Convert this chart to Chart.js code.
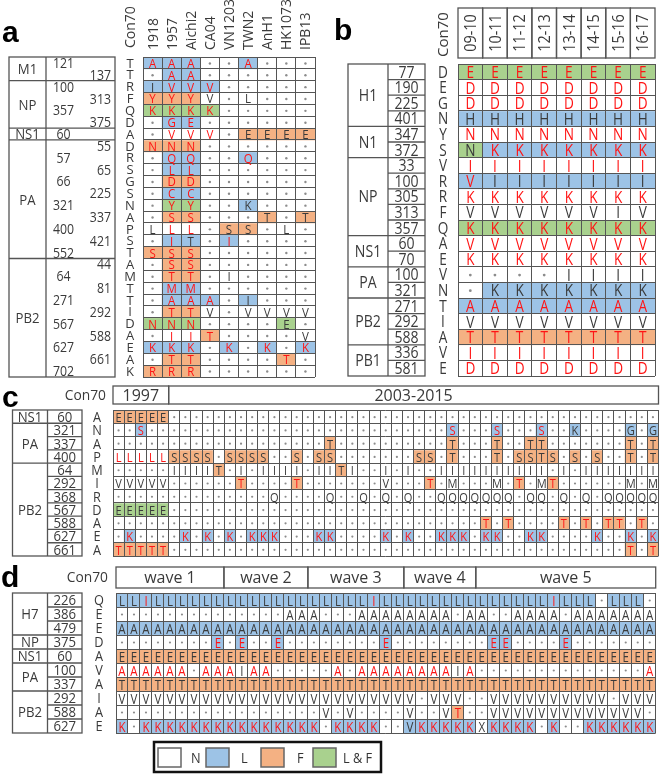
<!DOCTYPE html>
<html>
<head>
<meta charset="utf-8">
<script src="https://cdn.jsdelivr.net/npm/chart.js@4.4.1/dist/chart.umd.min.js"></script>
<style>
  body { margin: 0; background: #fff; }
  #page { position: relative; width: 660px; height: 774px; overflow: hidden; background: #fff; }
  canvas { position: absolute; }
</style>
</head>
<body>
<div id="page">
  <canvas id="cA"></canvas>
  <canvas id="cB"></canvas>
  <canvas id="cC"></canvas>
  <canvas id="cD"></canvas>
</div>
<script>
// ---------- data: panel a ----------
const aStrains = ['1918', '1957', 'Aichi2', 'CA04', 'VN1203', 'TWN2', 'AnH1', 'HK1073', 'IPB13'];
const aGenes = ['M1', 'NP', 'NS1', 'PA', 'PB2'];
const aGeneRows = [2, 4, 1, 10, 10];
const aPositions = [121, 137, 100, 313, 357, 375, 60, 55, 57, 65, 66, 225, 321, 337, 400, 421, 552,
  44, 64, 81, 271, 292, 567, 588, 627, 661, 702];
const aCon70 = 'TTRFQDADRSGSNAPSTAMTTIDAEAK';
// residues ('.' = same as Con70), cell class (L / F / B = L & F), red text
const aResidues = ['AAA..A...', '.AA......', 'IVVV.....', 'YYYV.L...', 'KKKK.....', '.GE......',
  '.VVV.EEEE', 'NNN......', '.QQ..Q...', '.LL......', '.DD......', '.CC......', '.YY..K...',
  '.SS...T.T', 'LLL.SS.L.', '.IT.I....', 'SSS......', '.SS......', '.TT.I....', '.MM......',
  '.AAA.I...', '.TTV.VVVV', 'NNN....E.', '.IIT....V', 'KKK.K.K.K', '.TT....T.', 'RRR......'];
const aClasses = ['LLL..L...', '.LL......', 'LLLL.....', 'FFF......', 'BBBB.....', '.LL......',
  '.....FFFF', 'FFF......', '.LL..L...', '.LL......', '.FF......', '.LL......', '.BB..L...',
  '.FF...F.F', '....FF...', '.LL.L....', 'FFF......', '.FF......', '.FF......', '.LL......',
  '.LLL.L...', '.FF......', 'BBB....B.', '...F.....', 'LLL.L.L.L', '.FF....F.', 'FFF......'];
const aRed = ['rrr..r...', '.rr......', '.rrr.....', 'rrr......', 'rrrr.....', '.rr......',
  '.rrr.....', 'rrr......', '.rr..r...', '.rr......', '.rr......', '.rr......', '.rr......',
  '.rr......', '.rr......', '.r..r....', 'rrr......', '.rr......', '.rr......', '.rr......',
  '.rrr.....', '.rr......', 'rrr......', '.rrr.....', 'rrr.r.r.r', '.rr....r.', 'rrr......'];

// ---------- data: panel b ----------
const bSeasons = ['09-10', '10-11', '11-12', '12-13', '13-14', '14-15', '15-16', '16-17'];
const bGenes = ['H1', 'N1', 'NP', 'NS1', 'PA', 'PB2', 'PB1'];
const bGeneRows = [4, 2, 5, 2, 2, 3, 2];
const bPositions = [77, 190, 225, 401, 347, 372, 33, 100, 305, 313, 357, 60, 70, 100, 321, 271, 292, 588, 336, 581];
const bCon70 = 'DEGNYSVRRFQAEVNTIAVE';
const bResidues = ['EEEEEEEE', 'DDDDDDDD', 'DDDDDDDD', 'HHHHHHHH', 'NNNNNNNN', 'NKKKKKKK', 'IIIIIIII',
  'VIIIIIII', 'KKKKKKKK', 'VVVVVVIV', 'KKKKKKKK', 'VVVVVVVV', 'KKKKKKKK', '....IIII', '.KKKKKKK',
  'AAAAAAAA', 'VVVVVVVV', 'TTTTTTTT', 'IIIIIIII', 'DDDDDDDD'];
const bClasses = ['BBBBBBBB', '........', '........', 'LLLLLLLL', '........', 'BLLLLLLL', '........',
  'LLLLLLLL', '........', '........', 'BBBBBBBB', '........', '........', '........', '.LLLLLLL',
  'LLLLLLLL', '........', 'FFFFFFFF', '........', '........'];
const bRed = ['rrrrrrrr', 'rrrrrrrr', 'rrrrrrrr', '........', 'rrrrrrrr', '.rrrrrrr', 'rrrrrrrr',
  'r.......', 'rrrrrrrr', '........', 'rrrrrrrr', 'rrrrrrrr', 'rrrrrrrr', '........', '........',
  'rrrrrrrr', '........', 'rrrrrrrr', 'rrrrrrrr', 'rrrrrrrr'];

// ---------- data: panel c ----------
const cPeriods = ['1997', '2003-2015'];
const cPeriodCols = [5, 44];
const cGenes = ['NS1', 'PA', 'PB2'];
const cGeneRows = [1, 3, 7];
const cPositions = [60, 321, 337, 400, 64, 292, 368, 567, 588, 627, 661];
const cCon70 = 'ANAPMIRDAEA';
const cResidues = [
  'EEEEE..... .......... .......... .......... .........',
  '..S....... .......... .......... S...S...S. .K....G.G',
  '.......... .........T .......... T...T..TT. ......T.T',
  'LLLLLSSSS. SSSS..S.SS .......SS. T...T.SSTS .S.S..T.T',
  '.....IIIIT .I.IIII.II TI..I.I..I IIIIIIIII. I.IIIIIII',
  'VVVVV..... .T....T... ....V...T. M...M.T.MT ......M.M',
  '.......... ....Q....Q ..Q.Q.Q..Q QQQQQQ.QQ. Q.Q.QQQQQ',
  'EEEEE..... .......... .......... .......... .........',
  '.......... .......... .......... ...T.T.... T.T.TT.T.',
  '.K....K.K. K.KKK...KK ....K.K..K KK.KK..KK. ...K..K.K',
  'TTTTT..... .......... .......... .......... ......T.T'];
const cClasses = [
  'FFFFF..... .......... .......... .......... .........',
  '..L....... .......... .......... L...L...L. .L....L.L',
  '.......... .........F .......... F...F..FF. ......F.F',
  '.....FFFF. FFFF..F.FF .......FF. F...F.FFFF .F.F..F.F',
  '.........F .......... F......... .......... .........',
  '.......... .F....F... ........F. ......F..F .........',
  '',
  'BBBBB..... .......... .......... .......... .........',
  '.......... .......... .......... ...F.F.... F.F.FF.F.',
  '.L....L.L. L.LLL...LL ....L.L..L LL.LL..LL. ...L..L.L',
  'FFFFF..... .......... .......... .......... ......F.F'];
const cRed = [
  '',
  '..r....... .......... .......... r...r...r. .........',
  '',
  'rrrrr..... .......... .......... .......... .........',
  '',
  '.......... .r....r... ........r. ......r..r .........',
  '',
  '',
  '.......... .......... .......... ...r.r.... r.r.rr.r.',
  '.r....r.r. r.rrr...rr ....r.r..r rr.rr..rr. ...r..r.r',
  'rrrrr..... .......... .......... .......... ......r.r'];

// ---------- data: panel d ----------
const dWaves = ['wave 1', 'wave 2', 'wave 3', 'wave 4', 'wave 5'];
const dWaveCols = [9, 7, 8, 6, 15];
const dGenes = ['H7', 'NP', 'NS1', 'PA', 'PB2'];
const dGeneRows = [3, 1, 1, 2, 3];
const dPositions = [226, 386, 479, 375, 60, 100, 337, 292, 588, 627];
const dCon70 = 'QEEDAVAIAE';
const dResidues = [
  'LLILLLLLLL LLLLLLLLLL LILLLLLLLL LLLLLLILLL .LLL.',
  '.......... ....AAA... AAAAAAAA.A A..AAAA.AA AAAAA',
  'AAAAAAAAAA AAAAAAAAAA AAAAAAAAAA AAAAAAAAAA AAAAA',
  '........E. E..E...... ..E....... .EE....E.. .....',
  'EEEEEEEEEE EEEEEEEEEE EEEEEEEEEE EEEEEEEEEE EEEEE',
  'AAAAAA.AAA IAA.....A. AAAAAAAAIA .......... ....A',
  'TTTTTTTTTT TTTTTTTTTT TTTTTTTTTT TTTTTTTTTT TTTTT',
  'VVVVVVVVVV VVVVVVVVVV VVVVV.VVV. .VVVVVVVVV V.VVV',
  '.......... .......V.V ....V..VT. .VVVVVVVVV VVVV.',
  'K.KKKKKKKK KKKKKKK.KK KK..VKKKKK XKKKK.K..K KKKKK'];
const dClasses = [
  'LLLLLLLLLL LLLLLLLLLL LLLLLLLLLL LLLLLLLLLL .LLL.',
  '',
  'LLLLLLLLLL LLLLLLLLLL LLLLLLLLLL LLLLLLLLLL LLLLL',
  '........L. L..L...... ..L....... .LL....L.. .....',
  'FFFFFFFFFF FFFFFFFFFF FFFFFFFFFF FFFFFFFFFF FFFFF',
  '',
  'FFFFFFFFFF FFFFFFFFFF FFFFFFFFFF FFFFFFFFFF FFFFF',
  '',
  '.......... .......... ........F. .......... .....',
  'L.LLLLLLLL LLLLLLL.LL LL..LLLLLL .LLLL.L..L LLLLL'];
const dRed = [
  '..r....... .......... .r........ ......r... .....',
  '',
  '',
  '........r. r..r...... ..r....... .rr....r.. .....',
  '',
  'rrrrrr.rrr .rr.....r. rrrrrrrr.r .......... ....r',
  '',
  '',
  '.......... .......... ........r. .......... .....',
  'r.rrrrrrrr rrrrrrr.rr rr...rrrrr .rrrr.r..r rrrrr'];

const legendLabels = ['N', 'L', 'F', 'L & F'];
const legendKeys = ['.', 'L', 'F', 'B'];

// ---------- styles ----------
const FAMILY = '"Open Sans", "Noto Sans", sans-serif';
const GRID = '#555';
const RED = '#ff1414';
const INK = '#3a3a3a';
const DOT = '#8c8c8c';
const FILL = { L: '#9dc3e6', F: '#f4b183', B: '#a9d18e' };

const strip = s => s.replace(/ /g, '');

function text(ctx, s, x, y, size, o = {}) {
  ctx.save();
  ctx.translate(x, y);
  if (o.rot) ctx.rotate(o.rot);
  ctx.scale(o.sx || 1, 1);
  ctx.font = (o.bold ? 'bold ' : '') + size + 'px ' + (o.family || FAMILY);
  ctx.fillStyle = o.color || INK;
  ctx.textAlign = o.align || 'center';
  ctx.textBaseline = 'alphabetic';
  ctx.fillText(s, 0, size * 0.36);
  ctx.restore();
}

function line(ctx, x0, y0, x1, y1) {
  ctx.beginPath();
  ctx.moveTo(x0, y0);
  ctx.lineTo(x1, y1);
  ctx.stroke();
}

// left-hand table of gene names and positions
function drawTable(ctx, Y, t) {
  const n = t.positions.length;
  ctx.save();
  ctx.strokeStyle = GRID;
  ctx.lineWidth = 1.3;
  ctx.strokeRect(t.x0, Y(0), t.x2 - t.x0, Y(n) - Y(0));
  line(ctx, t.x1, Y(0), t.x1, Y(n));
  let r = 0;
  const groupEnds = [];
  t.genes.forEach((g, i) => {
    const r0 = r;
    r += t.geneRows[i];
    groupEnds.push(r);
    if (r < n) line(ctx, t.x0, Y(r), t.x2, Y(r));
    text(ctx, g, (t.x0 + t.x1) / 2, (Y(r0) + Y(r)) / 2, t.geneSize, { sx: t.sx });
  });
  if (t.rowLines) {
    for (let k = 1; k < n; k++) {
      if (!groupEnds.includes(k)) line(ctx, t.x1, Y(k), t.x2, Y(k));
    }
  }
  t.positions.forEach((p, k) => {
    const yc = (Y(k) + Y(k + 1)) / 2;
    if (t.stagger) {
      if (k % 2 === 0) text(ctx, String(p), t.posLeft, yc, t.posSize, { sx: t.sx });
      else text(ctx, String(p), t.posRight, yc, t.posSize, { sx: t.sx, align: 'right' });
    } else {
      text(ctx, String(p), (t.x1 + t.x2) / 2, yc, t.posSize, { sx: t.sx });
    }
  });
  ctx.restore();
}

function drawLegend(ctx) {
  ctx.save();
  ctx.strokeStyle = '#111';
  ctx.lineWidth = 2.5;
  ctx.strokeRect(154, 742, 227, 30);
  const sw = [158, 206, 261, 313];
  const lx = [191, 241, 297, 343];
  legendLabels.forEach((lab, i) => {
    const k = legendKeys[i];
    ctx.fillStyle = FILL[k] || '#fff';
    ctx.fillRect(sw[i], 748, 23, 19);
    ctx.strokeStyle = '#666';
    ctx.lineWidth = 1.5;
    ctx.strokeRect(sw[i], 748, 23, 19);
    text(ctx, lab, lx[i], 757.5, 15, { align: 'left', sx: 0.85, color: '#333' });
  });
  ctx.restore();
}

// ---------- panel extras ----------
const LABEL_FONT = '"Liberation Sans", Arial, sans-serif';

function extraA(ctx, X, Y, p) {
  text(ctx, 'a', 2, 31, 30, { bold: true, family: LABEL_FONT, align: 'left', color: '#000' });
  text(ctx, 'Con70', 130, 48, 14, { rot: -Math.PI / 2, align: 'left' });
  aStrains.forEach((s, c) => text(ctx, s, X(c), 50, 14, { rot: -Math.PI / 2, align: 'left' }));
  for (let r = 0; r < aCon70.length; r++) text(ctx, aCon70[r], 130, (Y(r) + Y(r + 1)) / 2, 13, {});
  drawTable(ctx, Y, { x0: 9, x1: 46, x2: 115, genes: aGenes, geneRows: aGeneRows, positions: aPositions,
    geneSize: 15, posSize: 14, sx: 0.88, stagger: true, posLeft: 63.5, posRight: 111 });
}

function extraB(ctx, X, Y, p) {
  text(ctx, 'b', 334, 29, 30, { bold: true, family: LABEL_FONT, align: 'left', color: '#000' });
  text(ctx, 'Con70', 443, 57, 15, { rot: -Math.PI / 2, align: 'left' });
  ctx.save();
  ctx.strokeStyle = GRID;
  ctx.lineWidth = 1.3;
  bSeasons.forEach((s, c) => {
    const xl = X(c - 0.5), xr = X(c + 0.5);
    ctx.strokeRect(xl, 8, xr - xl, 50);
    text(ctx, s, X(c), 33, 16, { rot: -Math.PI / 2, sx: 0.9 });
  });
  ctx.restore();
  for (let r = 0; r < bCon70.length; r++) text(ctx, bCon70[r], 443, (Y(r) + Y(r + 1)) / 2, 16, { sx: 0.85 });
  drawTable(ctx, Y, { x0: 348, x1: 388, x2: 425, genes: bGenes, geneRows: bGeneRows, positions: bPositions,
    geneSize: 16, posSize: 16, sx: 0.88, rowLines: true });
}

function headerBoxes(ctx, X, names, counts, y0, y1) {
  ctx.save();
  ctx.strokeStyle = GRID;
  ctx.lineWidth = 1.3;
  let s = 0;
  names.forEach((nm, i) => {
    const xl = X(s - 0.5), xr = X(s + counts[i] - 0.5);
    ctx.strokeRect(xl, y0, xr - xl, y1 - y0);
    text(ctx, nm, (xl + xr) / 2, (y0 + y1) / 2, 16, {});
    s += counts[i];
  });
  ctx.restore();
}

function extraC(ctx, X, Y, p) {
  text(ctx, 'c', 2, 396, 30, { bold: true, family: LABEL_FONT, align: 'left', color: '#000' });
  text(ctx, 'Con70', 106, 395, 15, { align: 'right', sx: 0.92 });
  headerBoxes(ctx, X, cPeriods, cPeriodCols, 386, 404);
  for (let r = 0; r < cCon70.length; r++) text(ctx, cCon70[r], 97, (Y(r) + Y(r + 1)) / 2, 15, { sx: 0.85 });
  drawTable(ctx, Y, { x0: 12.5, x1: 47.5, x2: 82, genes: cGenes, geneRows: cGeneRows, positions: cPositions,
    geneSize: 15, posSize: 15, sx: 0.88, rowLines: true });
}

function extraD(ctx, X, Y, p) {
  text(ctx, 'd', 1, 576, 30, { bold: true, family: LABEL_FONT, align: 'left', color: '#000' });
  text(ctx, 'Con70', 108, 577, 15, { align: 'right', sx: 0.92 });
  headerBoxes(ctx, X, dWaves, dWaveCols, 567, 588);
  for (let r = 0; r < dCon70.length; r++) text(ctx, dCon70[r], 99, (Y(r) + Y(r + 1)) / 2, 15, { sx: 0.85 });
  drawTable(ctx, Y, { x0: 12.5, x1: 47.5, x2: 82, genes: dGenes, geneRows: dGeneRows, positions: dPositions,
    geneSize: 15, posSize: 15, sx: 0.88, rowLines: true });
  drawLegend(ctx);
}

// ---------- chart building ----------
const cLabels = cPeriods.flatMap((p, i) => Array(cPeriodCols[i]).fill(p));
const dLabels = dWaves.flatMap((w, i) => Array(dWaveCols[i]).fill(w));

const panels = [
  { id: 'cA', ox: 0, oy: 0, w: 330, h: 380, pad: { left: 143, top: 57, right: 15, bottom: 3 },
    cols: aStrains, res: aResidues, cls: aClasses, red: aRed, font: 12.5, sx: 0.92, dot: 1.2, extra: extraA },
  { id: 'cB', ox: 330, oy: 0, w: 330, h: 380, pad: { left: 128, top: 64, right: 5, bottom: 4 },
    cols: bSeasons, res: bResidues, cls: bClasses, red: bRed, font: 16, sx: 0.85, dot: 1.4, extra: extraB },
  { id: 'cC', ox: 0, oy: 380, w: 660, h: 180, pad: { left: 113, top: 30, right: 1.5, bottom: 4 },
    cols: cLabels, res: cResidues, cls: cClasses, red: cRed, font: 13.5, sx: 0.82, dot: 1.1, extra: extraC },
  { id: 'cD', ox: 0, oy: 560, w: 660, h: 214, pad: { left: 116, top: 33, right: 4.3, bottom: 41 },
    cols: dLabels, res: dResidues, cls: dClasses, red: dRed, font: 14, sx: 0.82, dot: 1.1, extra: extraD }
];

function letterPlugin(p) {
  return {
    id: 'letters' + p.id,
    afterDraw(chart) {
      const { ctx } = chart;
      const xs = chart.scales.x, ys = chart.scales.y;
      const X = c => xs.getPixelForValue(c) + p.ox;
      const Y = r => ys.getPixelForValue(r) + p.oy;
      ctx.save();
      ctx.translate(-p.ox, -p.oy);
      p.res.forEach((rowStr, r) => {
        const row = strip(rowStr);
        const red = strip(p.red[r] || '');
        const yc = (Y(r) + Y(r + 1)) / 2;
        for (let c = 0; c < row.length; c++) {
          const ch = row[c];
          if (ch === '.') {
            ctx.fillStyle = DOT;
            ctx.beginPath();
            ctx.arc(X(c), yc + 0.5, p.dot, 0, Math.PI * 2);
            ctx.fill();
          } else {
            text(ctx, ch, X(c), yc + 0.5, p.font, { sx: p.sx, color: red[c] === 'r' ? RED : INK });
          }
        }
      });
      p.extra(ctx, X, Y, p);
      ctx.restore();
    }
  };
}

panels.forEach(p => {
  const cv = document.getElementById(p.id);
  cv.width = p.w;
  cv.height = p.h;
  cv.style.left = p.ox + 'px';
  cv.style.top = p.oy + 'px';
  cv.style.width = p.w + 'px';
  cv.style.height = p.h + 'px';
  const nRows = p.res.length;
  const datasets = p.res.map((rowStr, r) => {
    const cls = strip(p.cls[r] || '');
    return {
      label: 'row ' + r,
      data: p.cols.map(() => 1),
      backgroundColor: p.cols.map((_, c) => FILL[cls[c]] || '#ffffff'),
      borderWidth: 0,
      barPercentage: 1,
      categoryPercentage: 1,
      stack: 'cells'
    };
  });
  new Chart(cv, {
    type: 'bar',
    data: { labels: p.cols, datasets },
    options: {
      responsive: false,
      animation: false,
      events: [],
      layout: { padding: p.pad },
      plugins: { legend: { display: false }, tooltip: { enabled: false } },
      scales: {
        x: {
          stacked: true, offset: true,
          grid: { offset: true, color: GRID, lineWidth: 1, drawTicks: false, z: 1 },
          border: { display: false },
          ticks: { display: false, autoSkip: false }
        },
        y: {
          stacked: true, reverse: true, min: 0, max: nRows,
          grid: { color: GRID, lineWidth: 1, drawTicks: false, z: 1 },
          border: { display: false },
          ticks: { display: false, stepSize: 1 }
        }
      }
    },
    plugins: [letterPlugin(p)]
  });
});
</script>
</body>
</html>
